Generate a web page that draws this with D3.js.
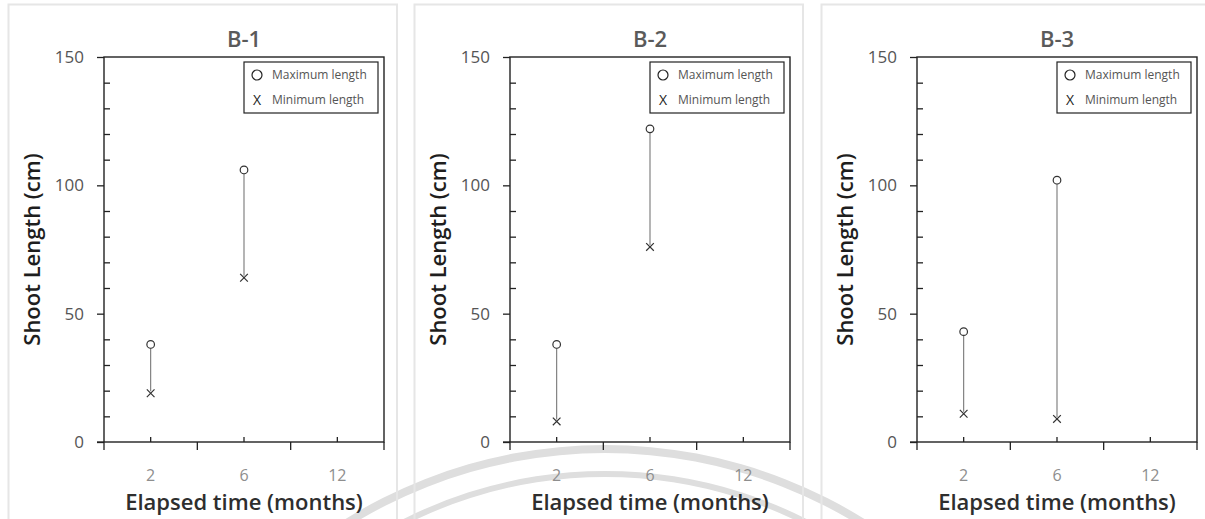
<!DOCTYPE html>
<html>
<head>
<meta charset="utf-8">
<script src="https://cdn.jsdelivr.net/npm/d3@7"></script>
<style>
  body { margin: 0; background: #fff; }
  svg { display: block; font-family: "Open Sans", "Noto Sans", sans-serif; }
</style>
</head>
<body>
<div id="chart"></div>
<script>
// data
let panels = ['B-1', 'B-2', 'B-3'];
let months = ['2', '6', '12'];
let maxB1 = [38, 106, null];
let minB1 = [19, 64, null];
let maxB2 = [38, 122, null];
let minB2 = [8, 76, null];
let maxB3 = [43, 102, null];
let minB3 = [11, 9, null];
let yTicks = [0, 50, 100, 150];
let maxSeries = [maxB1, maxB2, maxB3];
let minSeries = [minB1, minB2, minB3];

let width = 1205,
  height = 519;

let svg = d3.select('#chart').append('svg')
  .attr('width', width)
  .attr('height', height);

// faint watermark arcs behind everything
let wm = svg.append('g').attr('fill', '#dedede');
wm.append('path')
  .attr('transform', 'translate(605,937)')
  .attr('d', d3.arc()({innerRadius: 484, outerRadius: 492, startAngle: -0.75, endAngle: 0.75}));
wm.append('path')
  .attr('transform', 'translate(605,918)')
  .attr('d', d3.arc()({innerRadius: 441, outerRadius: 447, startAngle: -0.62, endAngle: 0.62}));

let panelX = [8, 414, 821];
let panelW = 389;
let plotLeft = 96, plotW = 280, plotTop = 57, plotBottom = 442;

let y = d3.scaleLinear().domain([0, 150]).range([plotBottom, plotTop]);
let x = d3.scaleBand().domain(months).range([0, plotW]).padding(0);

panels.forEach(function (name, p) {
  let g = svg.append('g').attr('transform', 'translate(' + panelX[p] + ',0)');

  // light panel border
  g.append('path')
    .attr('d', 'M0.5,' + height + 'V4.5H' + panelW + 'V' + height)
    .attr('fill', 'none')
    .attr('stroke', '#e6e6e6')
    .attr('stroke-width', 2);

  let plot = g.append('g').attr('transform', 'translate(' + plotLeft + ',0)');

  // frame
  plot.append('rect')
    .attr('x', 0).attr('y', plotTop)
    .attr('width', plotW).attr('height', plotBottom - plotTop)
    .attr('fill', 'none').attr('stroke', '#222').attr('stroke-width', 1.4);

  // y axis: major ticks outside with labels, minor ticks inside
  let yAxis = d3.axisLeft(y).tickValues(yTicks).tickSize(7).tickPadding(13);
  let ya = plot.append('g').call(yAxis);
  ya.select('.domain').remove();
  ya.selectAll('line').attr('stroke', '#222').attr('stroke-width', 1.3);
  ya.selectAll('text')
    .attr('fill', '#555')
    .style('font-size', '17px')
    .style('font-family', '"Open Sans", sans-serif');

  let yMinor = d3.axisRight(y).tickValues(d3.range(10, 150, 10).filter(function (d) { return d % 50; })).tickSize(6).tickFormat('');
  let ym = plot.append('g').call(yMinor);
  ym.select('.domain').remove();
  ym.selectAll('line').attr('stroke', '#222').attr('stroke-width', 1.3);

  // x axis: boundary ticks down, category ticks up
  let xg = plot.append('g').attr('transform', 'translate(0,' + plotBottom + ')');
  let bounds = months.map(function (m) { return x(m); }).concat([plotW]);
  xg.selectAll('line.b').data(bounds).enter().append('line')
    .attr('x1', function (d) { return d; }).attr('x2', function (d) { return d; })
    .attr('y1', 0).attr('y2', 8)
    .attr('stroke', '#222').attr('stroke-width', 1.3);
  xg.selectAll('line.c').data(months).enter().append('line')
    .attr('x1', function (d) { return x(d) + x.bandwidth() / 2; })
    .attr('x2', function (d) { return x(d) + x.bandwidth() / 2; })
    .attr('y1', 0).attr('y2', -5)
    .attr('stroke', '#222').attr('stroke-width', 1.3);
  xg.append('line').attr('x1', -7).attr('x2', 0).attr('stroke', '#222').attr('stroke-width', 1.3);
  xg.selectAll('text').data(months).enter().append('text')
    .attr('x', function (d) { return x(d) + x.bandwidth() / 2; })
    .attr('y', 39)
    .attr('text-anchor', 'middle')
    .attr('fill', '#8e8e8e')
    .style('font-size', '16px')
    .text(function (d) { return d; });

  // titles
  plot.append('text')
    .attr('x', plotW / 2).attr('y', 47)
    .attr('text-anchor', 'middle')
    .attr('fill', '#5a5a5a')
    .style('font-size', '22px').style('font-weight', '600')
    .text(name);

  plot.append('text')
    .attr('x', plotW / 2).attr('y', 510)
    .attr('text-anchor', 'middle')
    .attr('fill', '#2e2e2e')
    .style('font-size', '22px').style('font-weight', '600')
    .text('Elapsed time (months)');

  g.append('text')
    .attr('transform', 'translate(24,' + (plotTop + plotBottom) / 2 + ') rotate(-90)')
    .attr('text-anchor', 'middle')
    .attr('dy', '0.35em')
    .attr('fill', '#1e1e1e')
    .style('font-size', '22px').style('font-weight', '600')
    .text('Shoot Length (cm)');

  // data
  let pts = months.map(function (m, i) {
    return {m: m, max: maxSeries[p][i], min: minSeries[p][i]};
  }).filter(function (d) { return d.max != null; });

  let cx = function (d) { return x(d.m) + x.bandwidth() / 2; };

  plot.selectAll('line.range').data(pts).enter().append('line')
    .attr('x1', cx).attr('x2', cx)
    .attr('y1', function (d) { return y(d.max) + 3.5; })
    .attr('y2', function (d) { return y(d.min) - 2; })
    .attr('stroke', '#777').attr('stroke-width', 1.1);

  plot.selectAll('circle.max').data(pts).enter().append('circle')
    .attr('cx', cx).attr('cy', function (d) { return y(d.max); })
    .attr('r', 3.8)
    .attr('fill', '#fff').attr('stroke', '#333').attr('stroke-width', 1.2);

  let cross = d3.symbol().type(d3.symbolX).size(40);
  plot.selectAll('path.min').data(pts).enter().append('path')
    .attr('transform', function (d) { return 'translate(' + cx(d) + ',' + y(d.min) + ')'; })
    .attr('d', cross)
    .attr('fill', 'none').attr('stroke', '#333').attr('stroke-width', 1.2);

  // legend
  let lg = plot.append('g').attr('transform', 'translate(' + (plotW - 140) + ',' + (plotTop + 5) + ')');
  lg.append('rect').attr('width', 134).attr('height', 51)
    .attr('fill', '#fff').attr('stroke', '#222').attr('stroke-width', 1.2);
  lg.append('circle').attr('cx', 13).attr('cy', 13).attr('r', 5)
    .attr('fill', 'none').attr('stroke', '#222').attr('stroke-width', 1.2);
  lg.append('text').attr('x', 13).attr('y', 38).attr('dy', '0.35em')
    .attr('text-anchor', 'middle').attr('fill', '#222')
    .style('font-size', '14px').text('X');
  lg.append('text').attr('x', 28).attr('y', 13).attr('dy', '0.35em')
    .attr('fill', '#555').style('font-size', '12px').text('Maximum length');
  lg.append('text').attr('x', 28).attr('y', 38).attr('dy', '0.35em')
    .attr('fill', '#555').style('font-size', '12px').text('Minimum length');
});
</script>
</body>
</html>
